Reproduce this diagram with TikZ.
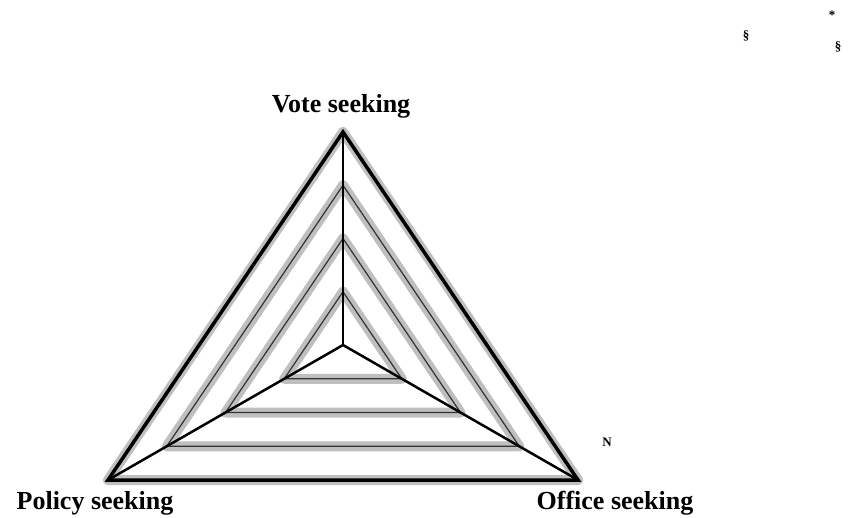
\documentclass[tikz,border=0pt]{standalone}
\usepackage{fontspec}
\setmainfont{Liberation Serif}
\usetikzlibrary{calc}
\tikzset{
  axislabel/.style={
    font=\fontsize{26}{29}\selectfont\bfseries,
    inner sep=0pt
  },
  tinymark/.style={
    font=\fontsize{13}{14}\selectfont\bfseries,
    inner sep=0pt
  }
}

\begin{document}
\begin{tikzpicture}[x=1pt, y=-1pt,
  edge/.style={draw=black, line width=3.5pt, line join=miter},
  spoke/.style={draw=black, line width=2.5pt},
  gridline/.style={draw=black!80, line width=1.2pt},
  halo/.style={draw=gray!50, line width=10pt, line join=round}
]
\useasboundingbox (0,0) rectangle (850,517);
%% ---- corners and centre ----
\coordinate (vote)   at (343,132);
\coordinate (policy) at (108,480);
\coordinate (office) at (578,480);
\coordinate (mid)    at (343,345);

%% ---- inner triangles ----
\foreach \s/\n in {0.25/a, 0.5/b, 0.75/c}{
  \coordinate (vote\n)   at ($(mid)!\s!(vote)$);
  \coordinate (policy\n) at ($(mid)!\s!(policy)$);
  \coordinate (office\n) at ($(mid)!\s!(office)$);
  \draw[halo] (vote\n) -- (policy\n) -- (office\n) -- cycle;
  \draw[gridline] (vote\n) -- (policy\n) -- (office\n) -- cycle;
}

%% ---- outer triangle ----
\draw[halo] (vote) -- (policy) -- (office) -- cycle;
\draw[edge] (vote) -- (policy) -- (office) -- cycle;

%% ---- spokes ----
\draw[spoke] (mid) -- (vote);
\draw[spoke] (mid) -- (policy);
\draw[spoke] (mid) -- (office);

%% ---- labels ----
\node[axislabel] (votelbl)   at (341,106) {Vote seeking};
\node[axislabel] (policylbl) at (95,503)  {Policy seeking};
\node[axislabel] (officelbl) at (615,503) {Office seeking};

\node[tinymark] (marka) at (746,36)  {§};
\node[tinymark] (markb) at (832,15)  {*};
\node[tinymark] (markc) at (838,47)  {§};
\node[tinymark] (markd) at (607,442) {N};

\end{tikzpicture}
\end{document}
